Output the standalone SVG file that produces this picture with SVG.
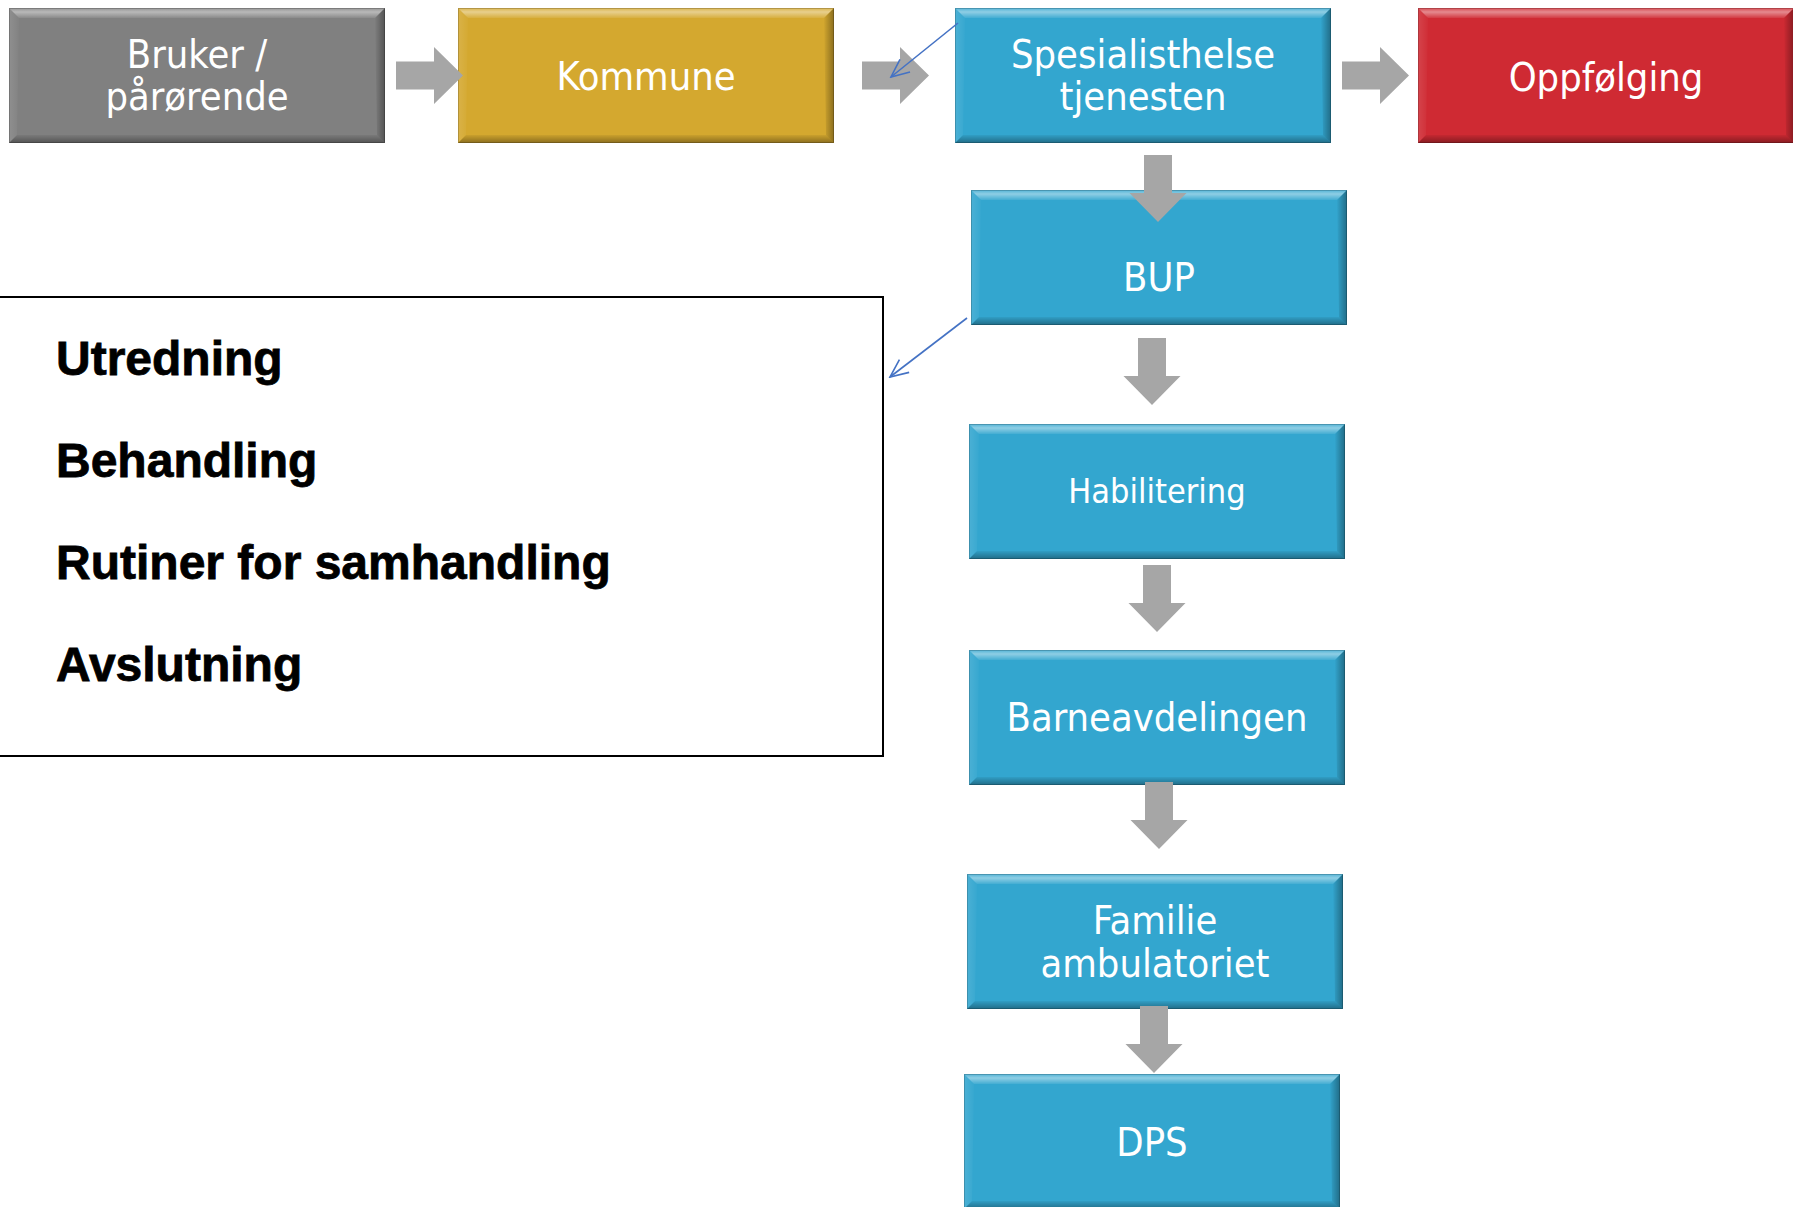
<svg xmlns="http://www.w3.org/2000/svg" width="1793" height="1207" viewBox="0 0 1793 1207">
<style>
.lbl{font-family:"DejaVu Sans Condensed","DejaVu Sans",Verdana,sans-serif;font-stretch:condensed;font-size:39.5px;fill:#ffffff;text-anchor:middle}
.sm{font-size:34px}
.item{font-family:"Liberation Sans",Arial,sans-serif;font-weight:bold;font-size:48px;fill:#000;stroke:#000;stroke-width:0.8}
.gray{fill:#808080}
.gold{fill:#D4A82F}
.blue{fill:#33A6CF}
.red{fill:#CF2A33}
.harrow{fill:#A6A6A6}
.link{stroke:#4472C4;stroke-width:1.6;fill:none;marker-end:url(#open)}
</style>
<defs>
<linearGradient id="gTop" x1="0" y1="0" x2="0" y2="1">
<stop offset="0" stop-color="#fff" stop-opacity="0.15"/>
<stop offset="0.4" stop-color="#fff" stop-opacity="0.45"/>
<stop offset="1" stop-color="#fff" stop-opacity="0.08"/>
</linearGradient>
<linearGradient id="gBot" x1="0" y1="0" x2="0" y2="1">
<stop offset="0" stop-color="#000" stop-opacity="0.05"/>
<stop offset="1" stop-color="#000" stop-opacity="0.35"/>
</linearGradient>
<linearGradient id="gRight" x1="0" y1="0" x2="1" y2="0">
<stop offset="0" stop-color="#000" stop-opacity="0.02"/>
<stop offset="1" stop-color="#000" stop-opacity="0.35"/>
</linearGradient>
<linearGradient id="gLeft" x1="0" y1="0" x2="1" y2="0">
<stop offset="0" stop-color="#fff" stop-opacity="0.12"/>
<stop offset="1" stop-color="#fff" stop-opacity="0.02"/>
</linearGradient>
<g id="bevel">
<polygon points="0,0 376,0 366,10 10,10" fill="url(#gTop)"/>
<polygon points="0,0 10,10 8,127 0,135" fill="url(#gLeft)"/>
<polygon points="376,0 376,135 368,127 366,10" fill="url(#gRight)"/>
<polygon points="0,135 8,127 368,127 376,135" fill="url(#gBot)"/>
<rect x="0.5" y="0.5" width="375" height="134" fill="none" stroke="#000" stroke-opacity="0.18" stroke-width="1"/>
</g>
<path id="arr" d="M0,-14 H38 V-28.5 L67,0 L38,28.5 V14 H0 Z"/>
<marker id="open" markerUnits="userSpaceOnUse" markerWidth="22" markerHeight="22" refX="20" refY="10" orient="auto" viewBox="0 0 22 20">
<path d="M2,2 L20,10 L2,18" fill="none" stroke="#4472C4" stroke-width="1.6"/>
</marker>
</defs>

<g id="node-bruker">
<rect class="gray" x="9" y="8" width="376" height="135"/>
<use href="#bevel" x="9" y="8"/>
<text class="lbl" x="197" y="68">Bruker /</text>
<text class="lbl" x="197" y="110">pårørende</text>
</g>

<g id="node-kommune">
<rect class="gold" x="458" y="8" width="376" height="135"/>
<use href="#bevel" x="458" y="8"/>
<text class="lbl" x="646" y="90">Kommune</text>
</g>

<g id="node-spesialist">
<rect class="blue" x="955" y="8" width="376" height="135"/>
<use href="#bevel" x="955" y="8"/>
<text class="lbl" x="1143" y="68">Spesialisthelse</text>
<text class="lbl" x="1143" y="110">tjenesten</text>
</g>

<g id="node-oppfolging">
<rect class="red" x="1418" y="8" width="376" height="135"/>
<use href="#bevel" x="1418" y="8"/>
<text class="lbl" x="1606" y="91">Oppfølging</text>
</g>

<g id="node-bup">
<rect class="blue" x="971" y="190" width="376" height="135"/>
<use href="#bevel" x="971" y="190"/>
<text class="lbl" x="1159" y="291">BUP</text>
</g>

<g id="node-habilitering">
<rect class="blue" x="969" y="424" width="376" height="135"/>
<use href="#bevel" x="969" y="424"/>
<text class="lbl sm" x="1157" y="503">Habilitering</text>
</g>

<g id="node-barneavdelingen">
<rect class="blue" x="969" y="650" width="376" height="135"/>
<use href="#bevel" x="969" y="650"/>
<text class="lbl" x="1157" y="731">Barneavdelingen</text>
</g>

<g id="node-familie">
<rect class="blue" x="967" y="874" width="376" height="135"/>
<use href="#bevel" x="967" y="874"/>
<text class="lbl" x="1155" y="934">Familie</text>
<text class="lbl" x="1155" y="977">ambulatoriet</text>
</g>

<g id="node-dps">
<rect class="blue" x="964" y="1074" width="376" height="135"/>
<use href="#bevel" x="964" y="1074"/>
<text class="lbl" x="1152" y="1156">DPS</text>
</g>

<g id="node-textbox">
<rect x="-2" y="297" width="885" height="459" fill="#ffffff" stroke="#000" stroke-width="2"/>
<text class="item" x="56" y="375">Utredning</text>
<text class="item" x="56" y="477">Behandling</text>
<text class="item" x="56" y="579">Rutiner for samhandling</text>
<text class="item" x="56" y="681">Avslutning</text>
</g>

<g id="connectors">
<use href="#arr" class="harrow" transform="translate(396,75.5)"/>
<use href="#arr" class="harrow" transform="translate(862,75.5)"/>
<use href="#arr" class="harrow" transform="translate(1342,75.5)"/>
<use href="#arr" class="harrow" transform="translate(1158,155) rotate(90)"/>
<use href="#arr" class="harrow" transform="translate(1152,338) rotate(90)"/>
<use href="#arr" class="harrow" transform="translate(1157,565) rotate(90)"/>
<use href="#arr" class="harrow" transform="translate(1159,782) rotate(90)"/>
<use href="#arr" class="harrow" transform="translate(1154,1006) rotate(90)"/>
<line class="link" x1="958" y1="23" x2="891" y2="77"/>
<line class="link" x1="967" y1="318" x2="890" y2="377"/>
</g>
</svg>
